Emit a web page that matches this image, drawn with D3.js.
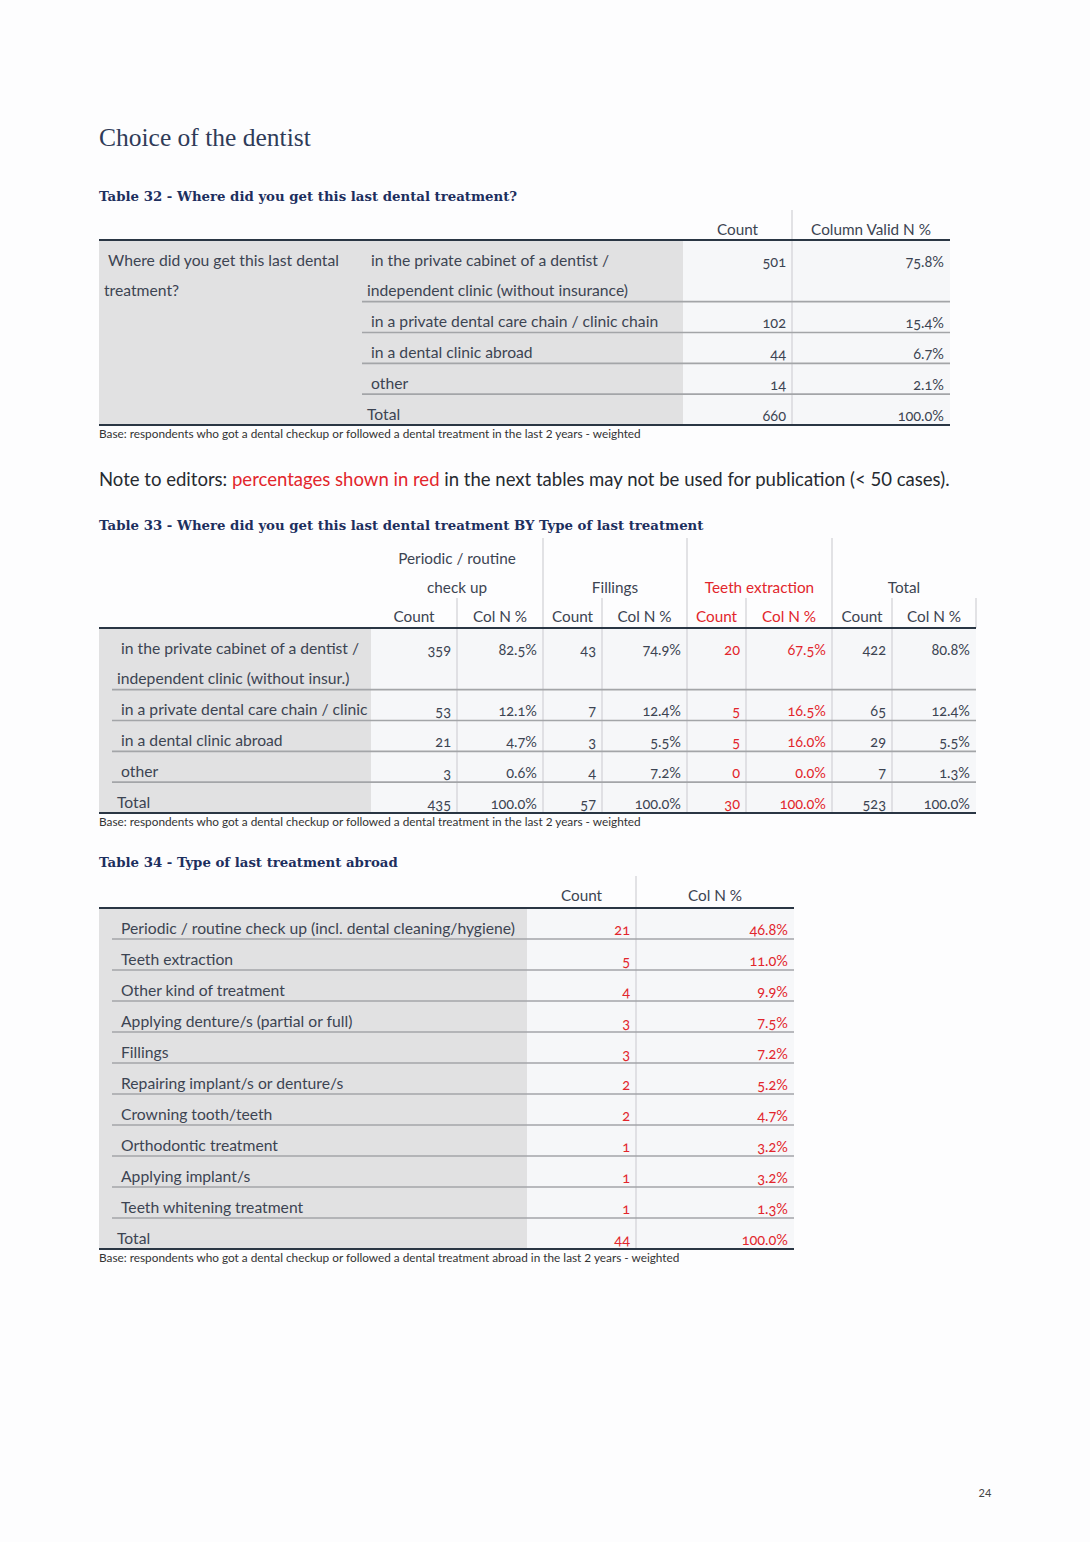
<!DOCTYPE html>
<html><head><meta charset="utf-8">
<script src="https://cdn.jsdelivr.net/npm/d3@7"></script>
<style>
html,body{margin:0;padding:0;background:#fdfdfe;}
svg text{font-family:Lato,"Open Sans",sans-serif;}
.num{font-variant-numeric:oldstyle-nums;font-feature-settings:"onum" 1;}
.serif{font-family:"Liberation Serif","DejaVu Serif",serif !important;}
.serifb{font-family:"DejaVu Serif","Liberation Serif",serif !important;}
</style></head><body>
<svg id="page" width="1090" height="1542"></svg>
<script>
// ---------- DATA ----------
const pageTitle = "Choice of the dentist";
const baseNote = "Base: respondents who got a dental checkup or followed a dental treatment in the last 2 years - weighted";
const baseNoteAbroad = "Base: respondents who got a dental checkup or followed a dental treatment abroad in the last 2 years - weighted";

// Table 32
const t32Title = "Table 32 - Where did you get this last dental treatment?";
const t32Stub = "Where did you get this last dental\ntreatment?";
const t32Categories = [
  "in the private cabinet of a dentist /\nindependent clinic (without insurance)",
  "in a private dental care chain / clinic chain",
  "in a dental clinic abroad",
  "other",
  "Total"
];
const t32Headers = ["Count", "Column Valid N %"];
const t32Counts = [501, 102, 44, 14, 660];
const t32Pcts = [75.8, 15.4, 6.7, 2.1, 100.0];

// Table 33
const t33Title = "Table 33 - Where did you get this last dental treatment BY Type of last treatment";
const t33Categories = [
  "in the private cabinet of a dentist /\nindependent clinic (without insur.)",
  "in a private dental care chain / clinic",
  "in a dental clinic abroad",
  "other",
  "Total"
];
const t33Groups = ["Periodic / routine\ncheck up", "Fillings", "Teeth extraction", "Total"];
const t33SubHeaders = ["Count", "Col N %"];
const t33PeriodicCount = [359, 53, 21, 3, 435];
const t33PeriodicPct = [82.5, 12.1, 4.7, 0.6, 100.0];
const t33FillingsCount = [43, 7, 3, 4, 57];
const t33FillingsPct = [74.9, 12.4, 5.5, 7.2, 100.0];
const t33ExtractionCount = [20, 5, 5, 0, 30];
const t33ExtractionPct = [67.5, 16.5, 16.0, 0.0, 100.0];
const t33TotalCount = [422, 65, 29, 7, 523];
const t33TotalPct = [80.8, 12.4, 5.5, 1.3, 100.0];

// Table 34
const t34Title = "Table 34 - Type of last treatment abroad";
const t34Categories = [
  "Periodic / routine check up (incl. dental cleaning/hygiene)",
  "Teeth extraction",
  "Other kind of treatment",
  "Applying denture/s (partial or full)",
  "Fillings",
  "Repairing implant/s or denture/s",
  "Crowning tooth/teeth",
  "Orthodontic treatment",
  "Applying implant/s",
  "Teeth whitening treatment",
  "Total"
];
const t34Headers = ["Count", "Col N %"];
const t34Counts = [21, 5, 4, 3, 3, 2, 2, 1, 1, 1, 44];
const t34Pcts = [46.8, 11.0, 9.9, 7.5, 7.2, 5.2, 4.7, 3.2, 3.2, 1.3, 100.0];

// ---------- STYLE ----------
const C = {
  text: "#3c4452", red: "#e2262c", navy: "#1d2f5e", title: "#2f3b58",
  gray: "#e1e1e2", light: "#f6f7f9", rule: "#2a3644", sep: "#a3a5a8", vline: "#d8d9dc"
};
const LABEL = 15.7, HEAD = 15.3;
const pct = v => d3.format(".1f")(v) + "%";
const cnt = v => d3.format("d")(v);

const svg = d3.select("#page");
svg.append("rect").attr("width", 1090).attr("height", 1542).attr("fill", "#fdfdfe");

// Page title
svg.append("text").attr("class", "serif").attr("x", 99).attr("y", 146)
  .attr("font-size", 25.5).attr("fill", C.title).text(pageTitle);

function tableTitle(txt, y) {
  svg.append("text").attr("class", "serifb").attr("x", 99).attr("y", y)
    .attr("font-size", 13.3).attr("font-weight", "bold").attr("fill", C.navy).text(txt);
}
function note(txt, y) {
  svg.append("text").attr("x", 99).attr("y", y).attr("font-size", 11.8).attr("fill", "#333")
    .text(txt);
}
function vline(x, y1, y2, color) {
  svg.append("line").attr("x1", x).attr("x2", x).attr("y1", y1).attr("y2", y2)
    .attr("stroke", color || C.vline).attr("stroke-width", 1.5);
}

function drawTable(cfg) {
  const g = svg.append("g");
  const lines = cfg.rows.map(r => r.split("\n"));
  const counts = lines.map(l => l.length);
  const starts = Array.from(d3.cumsum([0, ...counts]));
  const total = d3.sum(counts);
  const y = d3.scaleLinear().domain([0, total]).range([cfg.top, cfg.bottom]);
  const n = cfg.rows.length;

  g.append("rect").attr("x", cfg.x0).attr("y", cfg.top).attr("width", cfg.labelX1 - cfg.x0)
    .attr("height", cfg.bottom - cfg.top).attr("fill", C.gray);
  g.append("rect").attr("x", cfg.labelX1).attr("y", cfg.top).attr("width", cfg.x1 - cfg.labelX1)
    .attr("height", cfg.bottom - cfg.top).attr("fill", C.light);

  // body vertical lines
  cfg.cols.forEach((col, k) => {
    if (k > 0) {
      g.append("line").attr("x1", col.x0).attr("x2", col.x0).attr("y1", cfg.top).attr("y2", cfg.bottom)
        .attr("stroke", C.vline).attr("stroke-width", 1.5);
    }
  });

  // row separators
  g.selectAll("line.sep").data(d3.range(1, n)).join("line").attr("class", "sep")
    .attr("x1", cfg.sepX0).attr("x2", cfg.x1)
    .attr("y1", i => y(starts[i])).attr("y2", i => y(starts[i]))
    .attr("stroke", C.sep).attr("stroke-width", 1.6);

  // stub
  if (cfg.stub) {
    cfg.stub.split("\n").forEach((t, j) => {
      g.append("text").attr("x", cfg.stubX + (j === 0 ? 4 : 0)).attr("y", y(j) + 25.5)
        .attr("font-size", LABEL).attr("fill", C.text).text(t);
    });
  }

  // row labels
  lines.forEach((ls, i) => {
    ls.forEach((t, j) => {
      g.append("text")
        .attr("x", cfg.labelX + ((j === 0 && i < n - 1) ? 4 : 0))
        .attr("y", y(starts[i] + j) + 25.5)
        .attr("font-size", LABEL).attr("fill", C.text).text(t);
    });
  });

  // values
  cfg.cols.forEach(col => {
    g.selectAll(null).data(col.values).join("text").attr("class", "num")
      .attr("x", col.x1 - 6).attr("y", (d, i) => y(starts[i]) + 26.5)
      .attr("text-anchor", "end").attr("font-size", col.size || 14.5)
      .attr("fill", col.color || C.text).text(col.fmt);
  });

  // rules
  [cfg.top, cfg.bottom].forEach(yy => {
    g.append("line").attr("x1", cfg.x0).attr("x2", cfg.x1).attr("y1", yy).attr("y2", yy)
      .attr("stroke", C.rule).attr("stroke-width", 2);
  });
}

// ---------- TABLE 32 ----------
tableTitle(t32Title, 201);
{
  const colEdges = [683, 792, 950];
  vline(792, 210, 240);
  t32Headers.forEach((h, k) => {
    svg.append("text").attr("x", (colEdges[k] + colEdges[k + 1]) / 2).attr("y", 235)
      .attr("text-anchor", "middle").attr("font-size", HEAD).attr("fill", C.text).text(h);
  });
  drawTable({
    top: 240, bottom: 425, x0: 99, x1: 950, labelX1: 683, labelX: 367, sepX0: 362,
    stub: t32Stub, stubX: 104,
    rows: t32Categories,
    cols: [
      { x0: 683, x1: 792, values: t32Counts, fmt: cnt },
      { x0: 792, x1: 950, values: t32Pcts, fmt: pct }
    ]
  });
}
note(baseNote, 438);

// Note to editors
{
  const t = svg.append("text").attr("x", 99).attr("y", 486).attr("font-size", 18.55).attr("fill", "#262a30");
  t.append("tspan").text("Note to editors: ");
  t.append("tspan").attr("fill", C.red).text("percentages shown in red");
  t.append("tspan").text(" in the next tables may not be used for publication (< 50 cases).");
}

// ---------- TABLE 33 ----------
tableTitle(t33Title, 530);
{
  const edges = [371, 457, 543, 602, 687, 746, 832, 892, 976];
  const groupColors = [C.text, C.text, C.red, C.text];
  [543, 687, 832].forEach(x => vline(x, 538, 628));
  [457, 602, 746, 892, 976].forEach(x => vline(x, 598, 628));
  t33Groups.forEach((gname, k) => {
    const cx = (edges[2 * k] + edges[2 * k + 2]) / 2;
    const ls = gname.split("\n");
    ls.forEach((l, j) => {
      svg.append("text").attr("x", cx).attr("y", 593 - (ls.length - 1 - j) * 29.5)
        .attr("text-anchor", "middle").attr("font-size", HEAD).attr("fill", groupColors[k]).text(l);
    });
    t33SubHeaders.forEach((s, m) => {
      svg.append("text").attr("x", (edges[2 * k + m] + edges[2 * k + m + 1]) / 2).attr("y", 622)
        .attr("text-anchor", "middle").attr("font-size", HEAD).attr("fill", groupColors[k]).text(s);
    });
  });
  drawTable({
    top: 628, bottom: 813, x0: 99, x1: 976, labelX1: 371, labelX: 117, sepX0: 112,
    rows: t33Categories,
    cols: [
      { x0: 371, x1: 457, values: t33PeriodicCount, fmt: cnt },
      { x0: 457, x1: 543, values: t33PeriodicPct, fmt: pct },
      { x0: 543, x1: 602, values: t33FillingsCount, fmt: cnt },
      { x0: 602, x1: 687, values: t33FillingsPct, fmt: pct },
      { x0: 687, x1: 746, values: t33ExtractionCount, fmt: cnt, color: C.red },
      { x0: 746, x1: 832, values: t33ExtractionPct, fmt: pct, color: C.red },
      { x0: 832, x1: 892, values: t33TotalCount, fmt: cnt },
      { x0: 892, x1: 976, values: t33TotalPct, fmt: pct }
    ]
  });
}
note(baseNote, 826);

// ---------- TABLE 34 ----------
tableTitle(t34Title, 867);
{
  const colEdges = [527, 636, 794];
  vline(636, 876, 908);
  t34Headers.forEach((h, k) => {
    svg.append("text").attr("x", (colEdges[k] + colEdges[k + 1]) / 2).attr("y", 901)
      .attr("text-anchor", "middle").attr("font-size", HEAD).attr("fill", C.text).text(h);
  });
  drawTable({
    top: 908, bottom: 1249, x0: 99, x1: 794, labelX1: 527, labelX: 117, sepX0: 112,
    rows: t34Categories,
    cols: [
      { x0: 527, x1: 636, values: t34Counts, fmt: cnt, color: C.red },
      { x0: 636, x1: 794, values: t34Pcts, fmt: pct, color: C.red }
    ]
  });
}
note(baseNoteAbroad, 1262);

// page number
svg.append("text").attr("x", 985).attr("y", 1497).attr("text-anchor", "middle")
  .attr("font-size", 11).attr("fill", "#444").text("24");
</script>
</body></html>
